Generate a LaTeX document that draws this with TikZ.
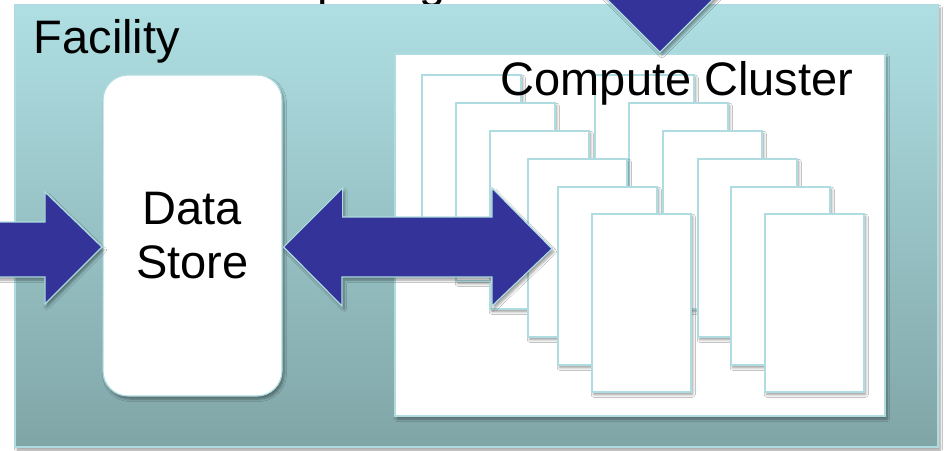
\documentclass[tikz,border=0pt]{standalone}
\usepackage{fontspec}
\setmainfont{Liberation Sans}
\usetikzlibrary{shadows.blur,calc}

\definecolor{arrowblue}{HTML}{333399}
\definecolor{edgecyan}{HTML}{AEDCE0}
\definecolor{facTop}{HTML}{AFDFE3}
\definecolor{facMid}{HTML}{A0CACD}
\definecolor{facBot}{HTML}{80A5A7}

\tikzset{
  softshadow/.style={blur shadow={shadow xshift=2pt, shadow yshift=-3pt,
      shadow blur radius=2.5pt, shadow blur steps=6, shadow opacity=40}},
  bigtext/.style={inner sep=0pt, font=\fontsize{47pt}{54pt}\selectfont, text=black},
  facilitybox/.style={draw=edgecyan, line width=1.2pt, top color=facTop,
      middle color=facMid, bottom color=facBot, minimum width=923pt,
      minimum height=442pt, inner sep=0pt, softshadow},
  storebox/.style={draw=edgecyan, line width=1.2pt, fill=white, rounded corners=25pt,
      minimum width=179pt, minimum height=321pt, align=center, inner sep=0pt,
      font=\fontsize{47pt}{54pt}\selectfont, softshadow},
  clusterbox/.style={draw=edgecyan, line width=1.5pt, fill=white,
      minimum width=490pt, minimum height=362pt, inner sep=0pt, softshadow},
  nodecard/.style={draw=edgecyan, line width=1.5pt, fill=white,
      minimum width=99pt, minimum height=178pt, inner sep=0pt, anchor=north west, softshadow},
  blockarrow/.style={fill=arrowblue, draw=edgecyan, line width=1.2pt, line join=miter, softshadow}
}

\begin{document}
\begin{tikzpicture}[x=1pt, y=-1pt]
  \useasboundingbox (0,0) rectangle (947,450);
  \clip (0,0) rectangle (947,450);
  \fill[white] (0,0) rectangle (947,450);

  % heading line, set mostly above the frame
  \node[bigtext, anchor=base west] (heading) at (218,-3) {Computing};

  % facility frame and its title
  \node[facilitybox] (facility) at (476.5,226) {};
  \node[bigtext, anchor=base west] (factitle) at (33.5,53.6) {Facility};

  % storage
  \node[storebox] (store) at (192.5,235.5) {Data\\Store};

  % cluster with two stacks of machines
  \node[clusterbox] (cluster) at (640,235) {};
  \foreach \i/\x/\y in {1/594/74, 2/628/102, 3/662/130, 4/697/158, 5/730/186, 6/764/213}
    \node[nodecard] (rcard\i) at (\x,\y) {};
  \foreach \i/\x/\y in {1/421/74, 2/455/102, 3/489/130, 4/527/158, 5/557/186, 6/591/213}
    \node[nodecard] (lcard\i) at (\x,\y) {};
  \node[bigtext, anchor=base west] (clustertitle) at (500.5,95.7) {Compute Cluster};

  % incoming data
  \coordinate (inTip) at (102,247);
  \draw[blockarrow] (inTip) -- ++(-57,-55) -- ++(0,30) -- ++(-70,0) -- ++(0,55)
      -- ++(70,0) -- ++(0,27) -- cycle;

  % store <-> cluster link
  \coordinate (linkL) at ($(store.east)+(1,11.5)$);
  \coordinate (linkR) at ($(lcard5.west)+(-5,-27)$);
  \draw[blockarrow] (linkL) -- ++(59,-59) -- ++(0,29) -- (492,217) -- (492,188)
      -- (linkR) -- (492,306) -- (492,277) -- (342,277) -- (342,306) -- cycle;

  % jobs arriving from above
  \coordinate (feedTip) at ($(cluster.north)+(20,-1)$);
  \draw[blockarrow] (feedTip) -- ++(59,-59) -- ++(-29,0) -- ++(0,-40) -- ++(-60,0)
      -- ++(0,40) -- ++(-29,0) -- cycle;
\end{tikzpicture}
\end{document}
